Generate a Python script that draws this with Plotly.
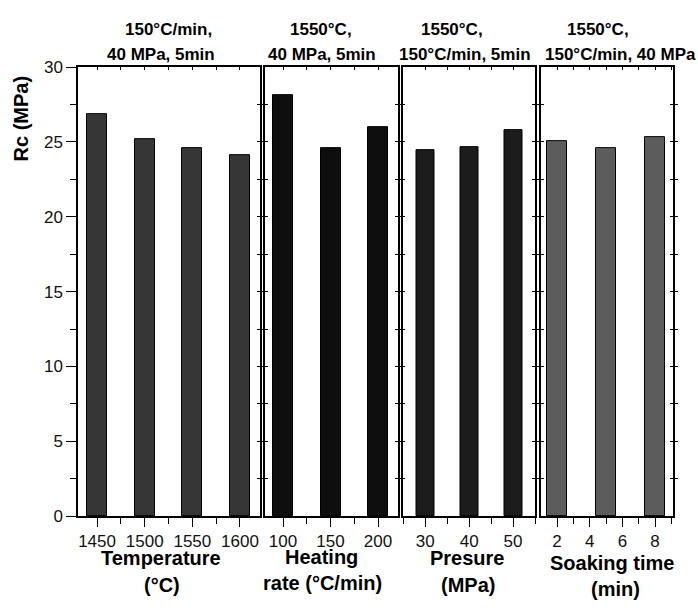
import plotly.graph_objects as go

W, H = 698, 608

# ---- data ----
temp_x = [1450, 1500, 1550, 1600]
temp_rc = [26.85, 25.2, 24.6, 24.1]
rate_x = [100, 150, 200]
rate_rc = [28.15, 24.57, 26.0]
pres_x = [30, 40, 50]
pres_rc = [24.43, 24.65, 25.8]
soak_x = [2, 5, 8]
soak_rc = [25.08, 24.62, 25.3]

panel_titles = [
    ["150°C/min,", "40 MPa, 5min"],
    ["1550°C,", "40 MPa, 5min"],
    ["1550°C,", "150°C/min, 5min"],
    ["1550°C,", "150°C/min, 40 MPa"],
]
axis_titles = [
    ["Temperature", "(°C)"],
    ["Heating", "rate (°C/min)"],
    ["Presure", "(MPa)"],
    ["Soaking time", "(min)"],
]
y_title = "Rc (MPa)"

FONT = "Liberation Sans, Arial, sans-serif"

# pixel geometry
panels_px = [(78, 260), (265, 397.5), (402.5, 535), (541, 673)]
y_top_px, y_bot_px = 60, 523.5
ydom = [1 - y_bot_px / H, 1 - y_top_px / H]

ranges = [[1430, 1621], [81, 220.5], [24.8, 55], [1.02, 9.1]]
major = [(1450, 50), (100, 50), (30, 10), (2, 2)]
minor = [(1425, 25), (75, 25), (25, 5), (1, 1)]
widths = [21, 21, 4.1, 1.2]
colors = ["#363636", "#0e0e0e", "#1c1c1c", "#5c5c5c"]
data = [(temp_x, temp_rc), (rate_x, rate_rc), (pres_x, pres_rc), (soak_x, soak_rc)]

fig = go.Figure()
layout = dict(
    width=W, height=H,
    margin=dict(l=0, r=0, t=0, b=0),
    paper_bgcolor="white", plot_bgcolor="white",
    showlegend=False,
    font=dict(family=FONT, size=17, color="#111"),
    bargap=0,
)

for i in range(4):
    n = i + 1
    xa = "x" if n == 1 else f"x{n}"
    ya = "y" if n == 1 else f"y{n}"
    xs, ys = data[i]
    fig.add_trace(go.Bar(
        x=xs, y=ys, width=widths[i], xaxis=xa, yaxis=ya,
        marker=dict(color=colors[i], line=dict(color="#000", width=1)),
    ))
    xd = [panels_px[i][0] / W, panels_px[i][1] / W]
    layout[f"xaxis{n}" if n > 1 else "xaxis"] = dict(
        domain=xd, range=ranges[i], anchor=ya,
        showline=True, linecolor="#000", linewidth=1.5, mirror=True,
        showgrid=False, zeroline=False,
        ticks="outside", ticklen=9, tickwidth=1.2, tickcolor="#000",
        tick0=major[i][0], dtick=major[i][1],
        minor=dict(ticks="outside", ticklen=6, tickwidth=1.2, tickcolor="#000",
                   tick0=minor[i][0], dtick=minor[i][1], showgrid=False),
        tickfont=dict(size=17, family=FONT, color="#111"),
        fixedrange=True,
    )
    if n == 1:
        ycfg = dict(
            ticks="outside", ticklen=10, tickwidth=1.2, tickcolor="#000",
            tick0=0, dtick=5, showticklabels=True,
            minor=dict(ticks="outside", ticklen=6, tickwidth=1.2, tickcolor="#000",
                       tick0=0, dtick=2.5, showgrid=False),
            tickfont=dict(size=17, family=FONT, color="#111"),
            mirror=True,
        )
    else:
        ycfg = dict(
            ticks="inside", ticklen=3, tickwidth=1.2, tickcolor="#000",
            tick0=0, dtick=2.5, showticklabels=False, mirror="allticks",
        )
    layout[f"yaxis{n}" if n > 1 else "yaxis"] = dict(
        domain=ydom, range=[0, 30], anchor=xa,
        showline=True, linecolor="#000", linewidth=1.5,
        showgrid=False, zeroline=False, fixedrange=True, **ycfg,
    )
    # top overlay x axis with small inside ticks
    m = n + 4
    layout[f"xaxis{m}"] = dict(
        overlaying=xa, anchor=ya, side="top", range=ranges[i], domain=xd,
        showline=False, showgrid=False, zeroline=False, showticklabels=False,
        ticks="inside", ticklen=3, tickwidth=1.2, tickcolor="#000",
        tick0=minor[i][0], dtick=minor[i][1], fixedrange=True,
    )
    fig.add_trace(go.Scatter(x=[None], y=[None], xaxis=f"x{m}", yaxis=ya,
                             mode="markers", hoverinfo="skip"))

# right-side inside ticks for panel 1
layout["yaxis9"] = dict(
    overlaying="y", anchor="x", side="right", range=[0, 30],
    showline=False, showgrid=False, zeroline=False, showticklabels=False,
    ticks="inside", ticklen=3, tickwidth=1.2, tickcolor="#000",
    tick0=0, dtick=2.5, fixedrange=True,
)
fig.add_trace(go.Scatter(x=[None], y=[None], xaxis="x", yaxis="y9",
                         mode="markers", hoverinfo="skip"))

anns = []
def ann(text, px, py, size, angle=0):
    anns.append(dict(
        text=f"<b>{text}</b>", x=px / W, y=1 - py / H, xref="paper", yref="paper",
        xanchor="center", yanchor="middle", showarrow=False, textangle=angle,
        font=dict(family=FONT, size=size, color="#000"),
    ))

title_pos = [[(168, 21), (161, 47)], [(321, 21), (322, 47)],
             [(452, 21), (465, 47)], [(598, 21), (620, 47)]]
for i in range(4):
    for j in range(2):
        ann(panel_titles[i][j], *title_pos[i][j], 17)

axt_pos = [[(161, 567), (162, 595)], [(321, 566), (322, 593)],
           [(467, 567), (468, 595)], [(612, 572), (615, 599)]]
for i in range(4):
    for j in range(2):
        ann(axis_titles[i][j], *axt_pos[i][j], 20)

ann(y_title, 21, 113, 20, angle=-90)

layout["annotations"] = anns
fig.update_layout(**layout)
fig.write_html("out.html")
